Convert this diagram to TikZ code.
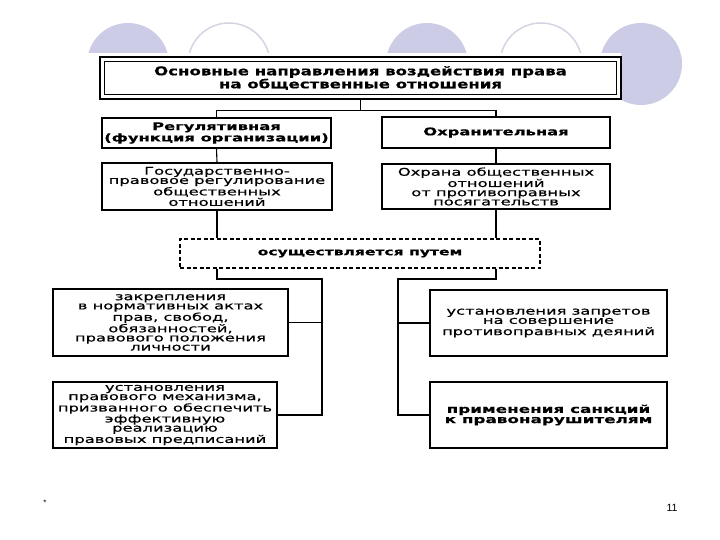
\documentclass[tikz,border=0pt]{standalone}
\usepackage{fontspec}
\setmainfont{Liberation Sans}
\newfontfamily\schemefont[FakeStretch=1.54, FakeBold=0.6]{DejaVu Sans}
\newfontfamily\headfont[FakeStretch=1.38, FakeBold=0.6]{DejaVu Sans}
\usetikzlibrary{calc}

\definecolor{lilac}{RGB}{204,204,230}
\definecolor{lilacline}{RGB}{212,212,228}

\tikzset{
  box/.style={draw, line width=1.2pt, inner sep=0pt, align=center,
    font={\schemefont\fontsize{10.6}{9.2}\selectfont}},
  boldbox/.style={box, font={\schemefont\bfseries\fontsize{10.6}{9.8}\selectfont}},
  link/.style={line width=1.1pt},
}

\begin{document}
\begin{tikzpicture}[x=1pt,y=-1pt]
  \useasboundingbox (0,0) rectangle (720,540);

  % slide decoration
  \foreach \cx in {128,427,641}
    \fill[lilac] (\cx,64) circle (41);
  \foreach \cx in {229,541}
    \draw[lilacline, line width=1.5pt] (\cx,64) circle (41);
  \fill[white] (70,53) rectangle (621,470);

  % top
  \node[boldbox, line width=2.2pt, minimum width=521pt, minimum height=42pt,
    font={\headfont\bfseries\fontsize{12}{11.5}\selectfont}] (title) at (360.5,78)
    {Основные направления воздействия права\\на общественные отношения};
  \draw[line width=0.9pt] ($(title.north west)+(6,6)$) rectangle ($(title.south east)+(-6,-6)$);

  % two directions
  \node[boldbox, minimum width=229pt, minimum height=30pt] (reg) at (216.5,133)
    {Регулятивная\\(функция организации)};
  \node[boldbox, minimum width=228pt, minimum height=31pt] (ohr) at (496,132.5)
    {Охранительная};
  \node[box, minimum width=230pt, minimum height=47pt] (regtext) at (217,186.5)
    {Государственно-\\правовое регулирование\\общественных\\отношений};
  \node[box, minimum width=228pt, minimum height=45pt] (ohrtext) at (496,186.5)
    {Охрана общественных\\отношений\\от противоправных\\посягательств};

  \node[boldbox, dash pattern=on 4pt off 2.5pt, minimum width=360pt, minimum height=29pt,
    font={\schemefont\bfseries\fontsize{10.1}{9.6}\selectfont}] (way) at (360,253.5)
    {осуществляется путем};

  % ways
  \node[box, minimum width=235pt, minimum height=67pt] (zakr) at (170.5,322.5)
    {закрепления\\в нормативных актах\\прав, свобод,\\обязанностей,\\правового положения\\личности};
  \node[box, minimum width=224pt, minimum height=66pt] (mech) at (165,415)
    {установления\\правового механизма,\\призванного обеспечить\\эффективную\\реализацию\\правовых предписаний};
  \node[box, minimum width=237pt, minimum height=66pt] (zapr) at (548.5,323)
    {установления запретов\\на совершение\\противоправных деяний};
  \node[boldbox, line width=1.8pt, minimum width=237pt, minimum height=66pt,
    font={\schemefont\bfseries\fontsize{10.9}{10.2}\selectfont}] (sanc) at (548.5,415)
    {применения санкций\\к правонарушителям};

  % connectors
  \coordinate (bus) at ($(title.south)+(0,10)$);
  \draw[link] (title.south) -- (bus);
  \draw[link] (reg.north) |- (bus -| ohr.north) -- (ohr.north);
  \draw[link] (reg.south) -- (regtext.north);
  \draw[link] (ohr.south) -- (ohrtext.north);
  \draw[link] (regtext.south) -- (regtext.south |- way.north);
  \draw[link] (ohrtext.south) -- (ohrtext.south |- way.north);

  \coordinate (lbus) at (322,279);
  \coordinate (rbus) at (398,279);
  \draw[link] (regtext.south |- way.south) |- (lbus) -- (lbus |- mech.east) -- (mech.east);
  \draw[link] (zakr.east) -- (zakr.east -| lbus);
  \draw[link] (ohrtext.south |- way.south) |- (rbus) -- (rbus |- sanc.west) -- (sanc.west);
  \draw[link] (zapr.west) -- (zapr.west -| rbus);

  % footer
  \node[font=\fontsize{8}{9}\selectfont] (star) at (45,503) {*};
  \node[font=\fontsize{10.5}{11}\selectfont] (page) at (672,508) {11};
\end{tikzpicture}
\end{document}
